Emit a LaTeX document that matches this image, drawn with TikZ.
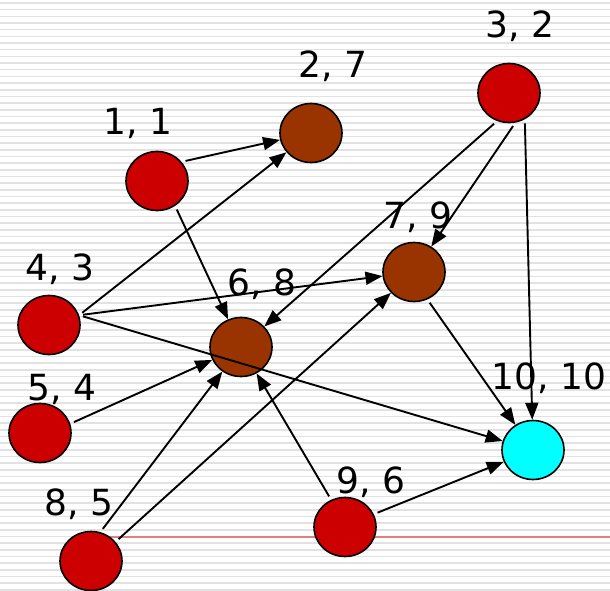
\documentclass[tikz,border=0pt]{standalone}
\usepackage{fontspec}
\setmainfont{DejaVu Sans}
\usetikzlibrary{shapes.geometric,arrows.meta}

\definecolor{nodered}{HTML}{CC0000}
\definecolor{nodebrown}{HTML}{993300}
\definecolor{nodecyan}{HTML}{00FFFF}
\definecolor{stripegray}{HTML}{E2E2E2}
\definecolor{rulered}{HTML}{E08080}

\tikzset{
	vtx/.style={ellipse, draw=black, line width=1.6pt, minimum width=62pt, minimum height=59pt, inner sep=0pt},
	lbl/.style={anchor=base, font=\fontsize{36}{42}\selectfont, inner sep=0pt},
	arc/.style={line width=1.9pt, -{Triangle[length=17pt,width=13pt]}, shorten <=4pt},
	stripe/.style={stripegray, line width=1.6pt}
}

\begin{document}
\begin{tikzpicture}[x=1pt, y=-1pt]
		\useasboundingbox (0,0) rectangle (610,591);

		% ruled paper
		\foreach \y in {3, 9.67, ..., 591} {
			\draw[stripe] (0,\y) -- (610,\y);
		}
		\coordinate (ruleL) at (95,537);
		\coordinate (ruleR) at (610,537);
		\draw[rulered, line width=1.4pt] (ruleL) -- (ruleR);

		% vertices
		\node[vtx, fill=nodered]   (v11)   at (157,181) {};
		\node[vtx, fill=nodebrown] (v27)   at (311,133) {};
		\node[vtx, fill=nodered]   (v32)   at (509,93)  {};
		\node[vtx, fill=nodered]   (v43)   at (49,325)  {};
		\node[vtx, fill=nodered]   (v54)   at (40,433)  {};
		\node[vtx, fill=nodebrown] (v68)   at (241,347) {};
		\node[vtx, fill=nodebrown] (v79)   at (414,272) {};
		\node[vtx, fill=nodered]   (v85)   at (91,561)  {};
		\node[vtx, fill=nodered]   (v96)   at (345,527) {};
		\node[vtx, fill=nodecyan]  (v1010) at (533,450) {};

		% labels
		\node[lbl] (l11)   at (138,135) {1, 1};
		\node[lbl] (l27)   at (333,78)  {2, 7};
		\node[lbl] (l32)   at (520,38)  {3, 2};
		\node[lbl] (l43)   at (60,280)  {4, 3};
		\node[lbl] (l54)   at (62,400)  {5, 4};
		\node[lbl] (l68)   at (262,295) {6, 8};
		\node[lbl] (l79)   at (418,228) {7, 9};
		\node[lbl] (l85)   at (79,515)  {8, 5};
		\node[lbl] (l96)   at (371,493) {9, 6};
		\node[lbl] (l1010) at (549,389) {10, 10};

		% edges, leaving each vertex a little off its rim
		\draw[arc] (v11.38)  -- (v27);
		\draw[arc] (v11.-54) -- (v68);
		\draw[arc] (v43.18)  -- (v27);
		\draw[arc] (v43.18)  -- (v79);
		\draw[arc] (v43.18)  -- (v1010);
		\draw[arc] (v54.17)  -- (v68);
		\draw[arc] (v85.72)  -- (v68);
		\draw[arc] (v85.38)  -- (v79);
		\draw[arc] (v96.117) -- (v68);
		\draw[arc] (v96.24)  -- (v1010);
		\draw[arc] (v32.-113) -- (v68);
		\draw[arc] (v32.-78) -- (v79);
		\draw[arc] (v32.-59) -- (v1010);
		\draw[arc] (v79.-64) -- (v1010);
	\end{tikzpicture}
\end{document}
